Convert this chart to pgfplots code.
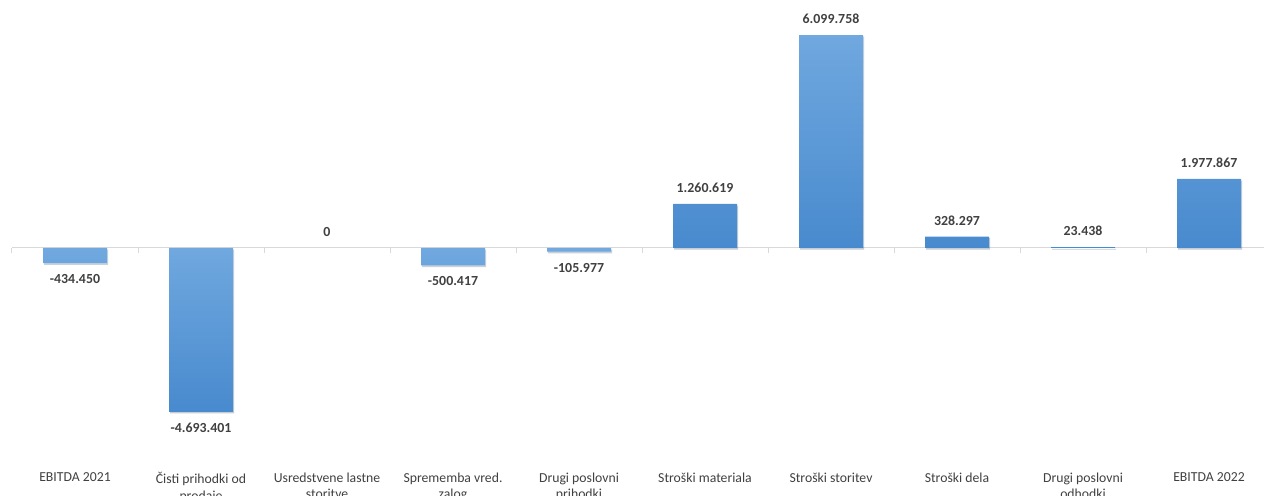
\documentclass[border=0pt]{standalone}
\usepackage{pgfplots}
\pgfplotsset{compat=1.18}
\usepackage{pgfplotstable}
\usepackage{fontspec}
\setmainfont{Carlito}
\usetikzlibrary{shadows}
\definecolor{barTop}{HTML}{70A8DF}
\definecolor{barBot}{HTML}{488ACE}
\definecolor{txt}{HTML}{404040}
\definecolor{axgray}{HTML}{D9D9D9}

\pgfplotstableread{
x y label
5 1260619 1.260.619
6 6099758 6.099.758
7 328297 328.297
8 23438 23.438
9 1977867 1.977.867
}\posdata
\pgfplotstableread{
x y label
0 -434450 -434.450
1 -4693401 -4.693.401
3 -500417 -500.417
4 -105977 -105.977
}\negdata
\pgfplotstableread{
x y label
2 0 0
}\zerodata

\begin{document}
\begin{tikzpicture}
\begin{axis}[
  scale only axis, width=945pt, height=346.5pt,
  xmin=-0.5, xmax=9.5, ymin=-6132000, ymax=7106000,
  axis line style={draw=none},
  tick style={draw=none},
  ytick=\empty,
  xtick={0,...,9},
  xticklabels={EBITDA 2021,{Čisti prihodki od\\prodaje},{Usredstvene lastne\\storitve},{Sprememba vred.\\zalog},{Drugi poslovni\\prihodki},Stroški materiala,Stroški storitev,Stroški dela,{Drugi poslovni\\odhodki},EBITDA 2022},
  xticklabel style={align=center, font=\fontsize{10.3}{12.2}\selectfont, text=txt, inner sep=0pt, anchor=north, yshift=-3.5pt},
  extra y ticks={0}, extra y tick labels={},
  extra y tick style={grid=major, major grid style={axgray, line width=0.75pt}},
  ybar, bar width=48pt, bar shift=0pt,
  point meta=explicit symbolic,
  nodes near coords,
  nodes near coords style={font=\bfseries\fontsize{10.4}{12}\selectfont, text=txt},
  clip=false,
]
\addplot[ybar, bar shift=0pt, draw=none, top color=barTop, bottom color=barBot,
  drop shadow={shadow xshift=0.8pt, shadow yshift=-1.2pt, fill=black, opacity=0.15},
  every node near coord/.append style={anchor=south, yshift=5pt}]
  table[x=x, y=y, meta=label] {\posdata};
\addplot[ybar, bar shift=0pt, draw=none, top color=barTop, bottom color=barBot,
  drop shadow={shadow xshift=0.8pt, shadow yshift=-1.2pt, fill=black, opacity=0.15},
  every node near coord/.append style={anchor=north, yshift=-5pt}]
  table[x=x, y=y, meta=label] {\negdata};
\addplot[ybar, bar shift=0pt, draw=none, fill=none,
  every node near coord/.append style={anchor=south, yshift=5pt}]
  table[x=x, y=y, meta=label] {\zerodata};
\end{axis}
\foreach \k in {0,...,10}{
  \draw[axgray, line width=0.75pt] (\k*94.5pt,160.5pt) -- (\k*94.5pt,157pt);
}
\pgfresetboundingbox
\path[use as bounding box] (-9pt,-25.5pt) rectangle (939pt,346.5pt);
\end{tikzpicture}
\end{document}
